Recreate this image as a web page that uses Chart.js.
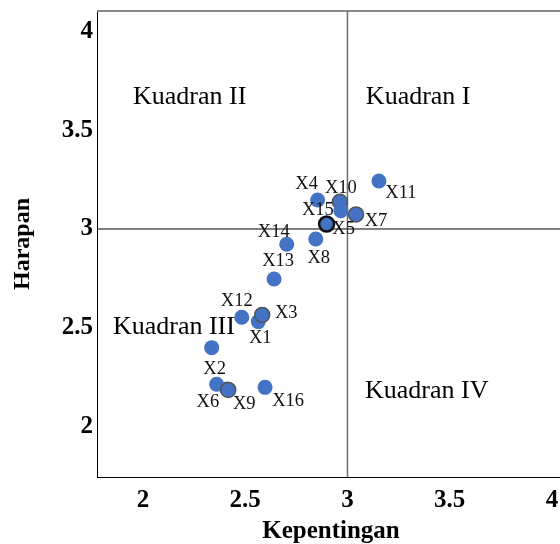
<!DOCTYPE html>
<html>
<head>
<meta charset="utf-8">
<script src="https://cdn.jsdelivr.net/npm/chart.js@4"></script>
<style>
  html, body { margin: 0; padding: 0; background: #fff; overflow: hidden; }
  #wrap { width: 600px; height: 544px; }
</style>
</head>
<body>
<div id="wrap"><canvas id="chart" width="600" height="544"></canvas></div>
<script>
// attribute names and their scores (x = Kepentingan, y = Harapan)
const names = ['X1', 'X2', 'X3', 'X4', 'X5', 'X6', 'X7', 'X8', 'X9', 'X10', 'X11', 'X12', 'X13', 'X14', 'X15', 'X16', ''];
const kepentingan = [2.564, 2.360, 2.583, 2.854, 2.898, 2.410, 3.042, 2.845, 2.417, 2.963, 3.154, 2.483, 2.641, 2.703, 2.968, 2.597, 2.336];
const harapan = [2.531, 2.214, 2.565, 3.147, 3.025, 2.190, 3.074, 2.949, 2.185, 3.138, 3.243, 2.553, 2.747, 2.923, 3.093, 2.198, 2.399];
const tickValues = [2, 2.5, 3, 3.5, 4];
const midX = 3;
const midY = 3;

// label placement around each point (pixels), drawing only
const labelOffset = {
    X1: [2, 17], X2: [-2, -15], X3: [24, -2], X4: [-11, -16], X5: [17, 5],
    X6: [-19, 13], X7: [20, 7], X8: [3, 19], X9: [16, 14], X10: [1, -14],
    X11: [22, 12], X12: [-5, -16], X13: [4, -18], X14: [-13, -12], X15: [-23, 0], X16: [23, 14]
};
const outlined = { X3: '#555', X7: '#555', X9: '#555', X10: '#555', X5: '#111' };

const quadrants = [
    { text: 'Kuadran II', x: 1.951, y: 3.67 },
    { text: 'Kuadran I', x: 3.090, y: 3.67 },
    { text: 'Kuadran III', x: 1.853, y: 2.505 },
    { text: 'Kuadran IV', x: 3.086, y: 2.18 }
];

const points = names.map((n, i) => ({ x: kepentingan[i], y: harapan[i] }));

const quadrantPlugin = {
    id: 'quadrants',
    beforeDatasetsDraw(chart) {
        const { ctx, chartArea, scales } = chart;
        const px = scales.x.getPixelForValue(midX);
        const py = scales.y.getPixelForValue(midY);
        ctx.save();
        // top frame line
        ctx.strokeStyle = '#8a8a8a';
        ctx.lineWidth = 2;
        ctx.beginPath();
        ctx.moveTo(chartArea.left, chartArea.top);
        ctx.lineTo(chartArea.right, chartArea.top);
        ctx.stroke();
        // vertical divider
        ctx.strokeStyle = '#6e6e6e';
        ctx.lineWidth = 1.5;
        ctx.beginPath();
        ctx.moveTo(px, chartArea.top);
        ctx.lineTo(px, chartArea.bottom);
        ctx.stroke();
        // horizontal divider
        ctx.strokeStyle = '#000';
        ctx.lineWidth = 1;
        ctx.beginPath();
        ctx.moveTo(chartArea.left, py);
        ctx.lineTo(chartArea.right, py);
        ctx.stroke();
        // quadrant names
        ctx.fillStyle = '#000';
        ctx.font = '26px "Liberation Serif"';
        ctx.textAlign = 'left';
        ctx.textBaseline = 'middle';
        quadrants.forEach(q => {
            ctx.fillText(q.text, scales.x.getPixelForValue(q.x), scales.y.getPixelForValue(q.y));
        });
        ctx.restore();
    },
    afterDatasetsDraw(chart) {
        const { ctx } = chart;
        const meta = chart.getDatasetMeta(0);
        ctx.save();
        ctx.fillStyle = '#111';
        ctx.font = '18.5px "Liberation Serif"';
        ctx.textAlign = 'center';
        ctx.textBaseline = 'middle';
        meta.data.forEach((el, i) => {
            const n = names[i];
            if (!n) return;
            const off = labelOffset[n] || [0, -14];
            ctx.fillText(n, el.x + off[0], el.y + off[1]);
        });
        ctx.restore();
    }
};

const ctx = document.getElementById('chart');

new Chart(ctx, {
    type: 'scatter',
    data: {
        datasets: [{
            data: points,
            backgroundColor: '#4472C4',
            borderColor: names.map(n => outlined[n] || '#4472C4'),
            borderWidth: names.map(n => n === 'X5' ? 2.5 : (outlined[n] ? 1.5 : 0)),
            pointRadius: 7.5,
            pointHoverRadius: 7.5
        }]
    },
    options: {
        responsive: false,
        animation: false,
        events: [],
        layout: { padding: { top: 11, right: 35, left: 0, bottom: 0 } },
        plugins: {
            legend: { display: false },
            tooltip: { enabled: false }
        },
        scales: {
            x: {
                type: 'linear',
                min: 1.775,
                max: 4.064,
                afterBuildTicks: s => { s.ticks = tickValues.map(v => ({ value: v })); },
                afterFit: s => { s.height = 67; s.paddingLeft = 0; s.paddingRight = 0; },
                grid: { display: false, drawTicks: false },
                border: { display: true, color: '#000', width: 1 },
                ticks: {
                    color: '#000',
                    padding: 9,
                    maxRotation: 0,
                    font: { family: 'Liberation Serif', size: 25, weight: 'bold' },
                    callback: v => String(v)
                },
                title: {
                    display: true,
                    text: 'Kepentingan',
                    color: '#000',
                    padding: 0,
                    font: { family: 'Liberation Serif', size: 25, weight: 'bold', lineHeight: 1 }
                }
            },
            y: {
                type: 'linear',
                min: 1.744,
                max: 4.104,
                afterBuildTicks: s => { s.ticks = tickValues.map(v => ({ value: v })); },
                afterFit: s => { s.width = 97; s.paddingTop = 0; s.paddingBottom = 0; },
                grid: { display: false, drawTicks: false },
                border: { display: true, color: '#000', width: 1 },
                ticks: {
                    color: '#000',
                    padding: 4,
                    font: { family: 'Liberation Serif', size: 25, weight: 'bold' },
                    callback: v => String(v)
                },
                title: {
                    display: true,
                    text: 'Harapan',
                    color: '#000',
                    padding: { top: 11, bottom: 0 },
                    font: { family: 'Liberation Serif', size: 24, weight: 'bold', lineHeight: 1 }
                }
            }
        }
    },
    plugins: [quadrantPlugin]
});
</script>
</body>
</html>
